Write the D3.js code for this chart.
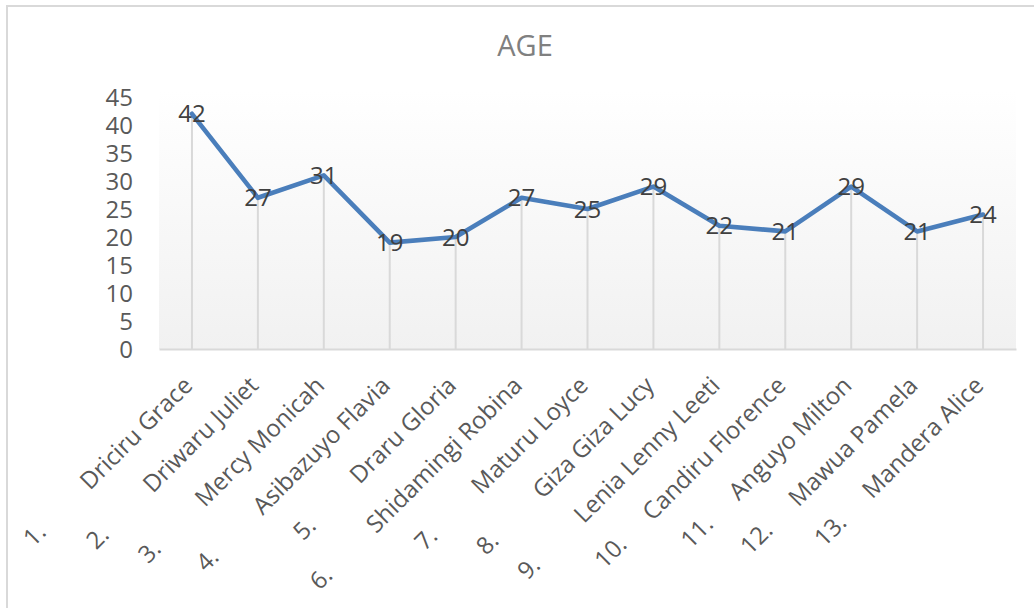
<!DOCTYPE html>
<html>
<head>
<meta charset="utf-8">
<script src="https://cdn.jsdelivr.net/npm/d3@7"></script>
<style>
  html, body { margin: 0; padding: 0; background: #ffffff; }
  svg { display: block; font-family: "Open Sans", sans-serif; }
</style>
</head>
<body>
<svg id="chart" width="1034" height="608"></svg>
<script>
// ---- data ----
const title = "AGE";
const numbers = ["1.", "2.", "3.", "4.", "5.", "6.", "7.", "8.", "9.", "10.", "11.", "12.", "13."];
const names = ["Driciru Grace", "Driwaru Juliet", "Mercy Monicah", "Asibazuyo Flavia", "Draru Gloria",
  "Shidamingi Robina", "Maturu Loyce", "Giza Giza Lucy", "Lenia Lenny Leeti", "Candiru Florence",
  "Anguyo Milton", "Mawua Pamela", "Mandera Alice"];
const ages = [42, 27, 31, 19, 20, 27, 25, 29, 22, 21, 29, 21, 24];
const yTicks = [0, 5, 10, 15, 20, 25, 30, 35, 40, 45];

// ---- layout ----
const svg = d3.select("#chart");
const plot = { left: 159, right: 1016, top: 90, bottom: 349 };

const x = d3.scaleBand().domain(names).range([plot.left, plot.right]);
const y = d3.scaleLinear().domain([0, 45]).range([349, 97]);
const cx = d => x(d) + x.bandwidth() / 2;

// chart border
svg.append("rect")
  .attr("x", 7).attr("y", 6).attr("width", 1100).attr("height", 700)
  .attr("fill", "none").attr("stroke", "#d9d9d9").attr("stroke-width", 2);

// plot area gradient
const defs = svg.append("defs");
const grad = defs.append("linearGradient").attr("id", "pg")
  .attr("x1", 0).attr("y1", 0).attr("x2", 0).attr("y2", 1);
grad.append("stop").attr("offset", "0%").attr("stop-color", "#ffffff");
grad.append("stop").attr("offset", "100%").attr("stop-color", "#f1f1f1");
svg.append("rect")
  .attr("x", plot.left).attr("y", plot.top)
  .attr("width", plot.right - plot.left).attr("height", plot.bottom - plot.top)
  .attr("fill", "url(#pg)");

// title
svg.append("text")
  .attr("x", 525).attr("y", 56)
  .attr("text-anchor", "middle")
  .attr("font-size", 29).attr("fill", "#808080")
  .text(title);

// y axis (labels only)
const yAxis = d3.axisLeft(y).tickValues(yTicks).tickSize(0).tickPadding(0).tickFormat(d3.format("d"));
const yg = svg.append("g").attr("transform", "translate(133,0)").call(yAxis);
yg.select(".domain").remove();
yg.selectAll("text")
  .attr("font-family", "Open Sans, sans-serif")
  .attr("font-size", 24).attr("fill", "#595959").attr("dy", "0.36em");

// drop lines
const data = names.map((n, i) => ({ name: n, num: numbers[i], age: ages[i] }));
svg.append("g").selectAll("line").data(data).join("line")
  .attr("x1", d => cx(d.name)).attr("x2", d => cx(d.name))
  .attr("y1", d => y(d.age)).attr("y2", y(0))
  .attr("stroke", "#d9d9d9").attr("stroke-width", 2);

// baseline (x axis line)
const xAxis = d3.axisBottom(x).tickSize(0).tickFormat("");
const xg = svg.append("g").attr("transform", `translate(0,${y(0)})`).call(xAxis);
xg.select(".domain").attr("stroke", "#d9d9d9").attr("stroke-width", 2);

// line
const line = d3.line().x(d => cx(d.name)).y(d => y(d.age));
svg.append("path").datum(data)
  .attr("d", line)
  .attr("fill", "none").attr("stroke", "#4a7ebb")
  .attr("stroke-width", 4.6).attr("stroke-linejoin", "round").attr("stroke-linecap", "round");

// data labels
svg.append("g").selectAll("text").data(data).join("text")
  .attr("x", d => cx(d.name)).attr("y", d => y(d.age))
  .attr("dy", "0.36em").attr("text-anchor", "middle")
  .attr("font-size", 24).attr("fill", "#404040")
  .text(d => d.age);

// category labels, rotated -45
const lg = svg.append("g").selectAll("g").data(data).join("g")
  .attr("transform", d => `translate(${cx(d.name) + 2},387) rotate(-45)`);
lg.append("text")
  .attr("class", "nm")
  .attr("x", 0).attr("y", 0)
  .attr("text-anchor", "end")
  .attr("font-size", 24).attr("fill", "#595959")
  .text(d => d.name);
lg.each(function(d) {
  const g = d3.select(this);
  const w = g.select("text.nm").node().getComputedTextLength();
  const gap = d.num.length > 2 ? 68 : 80;
  g.append("text")
    .attr("x", -(w + gap)).attr("y", 0)
    .attr("text-anchor", "start")
    .attr("font-size", 24).attr("fill", "#595959")
    .text(d.num);
});
</script>
</body>
</html>
